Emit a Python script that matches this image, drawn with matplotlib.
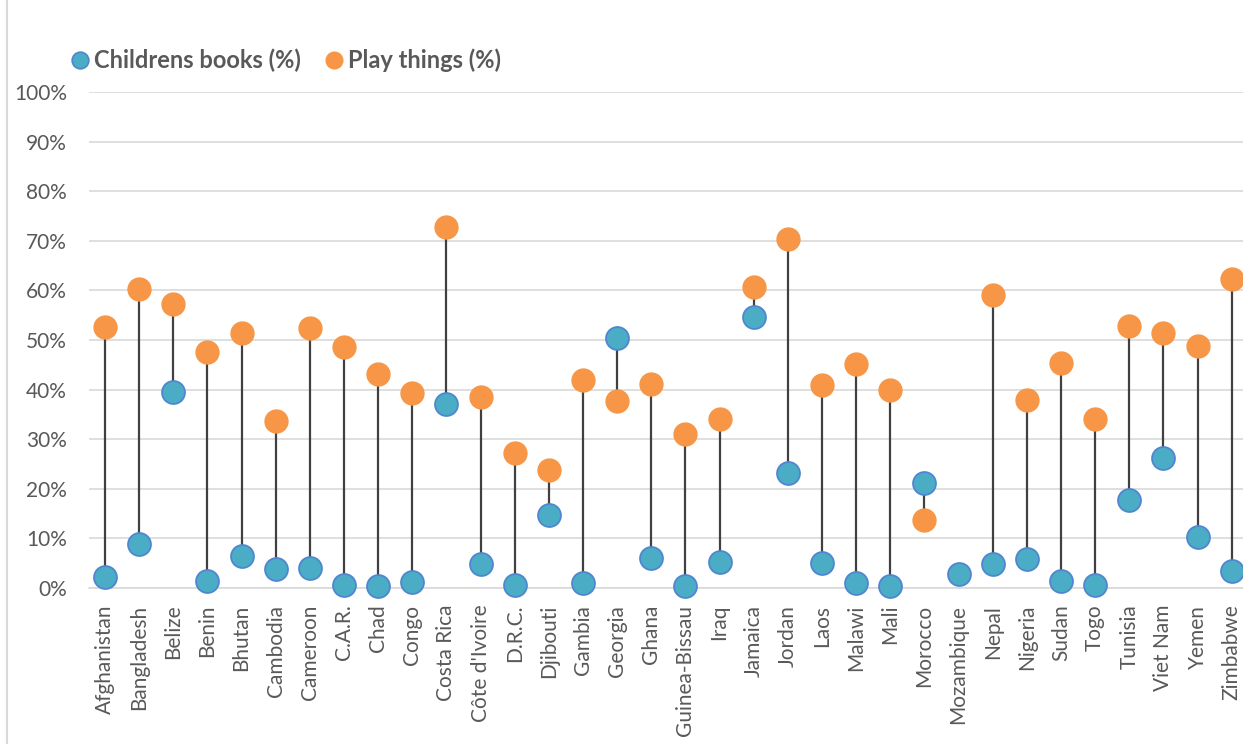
import numpy as np
import matplotlib.pyplot as plt
from matplotlib.lines import Line2D
from matplotlib.ticker import PercentFormatter

plt.rcParams['font.family'] = ['Lato', 'DejaVu Sans']

# data (%)
countries = ["Afghanistan", "Bangladesh", "Belize", "Benin", "Bhutan", "Cambodia",
             "Cameroon", "C.A.R.", "Chad", "Congo", "Costa Rica", "Côte d'Ivoire",
             "D.R.C.", "Djibouti", "Gambia", "Georgia", "Ghana", "Guinea-Bissau",
             "Iraq", "Jamaica", "Jordan", "Laos", "Malawi", "Mali", "Morocco",
             "Mozambique", "Nepal", "Nigeria", "Sudan", "Togo", "Tunisia",
             "Viet Nam", "Yemen", "Zimbabwe"]
books = [2.2, 8.8, 39.6, 1.4, 6.5, 3.9, 4.0, 0.7, 0.5, 1.2, 37.0, 4.8,
         0.6, 14.7, 1.1, 50.5, 6.1, 0.4, 5.3, 54.7, 23.1, 5.0, 1.1, 0.4, 21.1,
         2.8, 4.8, 5.9, 1.5, 0.7, 17.7, 26.2, 10.2, 3.4]
play = [52.6, 60.2, 57.3, 47.5, 51.5, 33.7, 52.4, 48.5, 43.1, 39.3, 72.8, 38.6,
        27.2, 23.7, 42.0, 37.8, 41.1, 31.1, 34.0, 60.7, 70.4, 40.9, 45.2, 40.0, 13.7,
        np.nan, 59.1, 38.0, 45.4, 34.1, 52.9, 51.5, 48.8, 62.2]

blue = '#4BACC6'
blue_edge = '#4F86D0'
orange = '#F79646'
grey = '#595959'

x = np.arange(len(countries))
b = np.array(books)
p = np.array(play)

fig = plt.figure(figsize=(12.43, 7.44), dpi=100)
ax = fig.add_axes([89 / 1243, (744 - 588) / 744, 1 - 89 / 1243, (588 - 92) / 744])

# connecting lines
ok = ~np.isnan(p)
ax.vlines(x[ok], b[ok], p[ok], color='#404040', lw=1.6, zorder=2)

ax.plot(x, b, 'o', ms=16.5, color=blue, mec=blue_edge, mew=1.3, zorder=3, clip_on=False)
ax.plot(x, p, 'o', ms=16.5, color=orange, mec=orange, mew=1.0, zorder=3, clip_on=False)

ax.set_ylim(0, 100)
ax.set_yticks(np.arange(0, 101, 10))
ax.yaxis.set_major_formatter(PercentFormatter(decimals=0))
ax.set_xlim(-0.47, len(countries) - 1 + 0.33)
ax.set_xticks(x)
ax.set_xticklabels(countries, rotation=90)
ax.grid(axis='y', color='#d9d9d9', lw=1.2, zorder=0)
ax.set_axisbelow(True)
for s in ['top', 'right', 'left']:
    ax.spines[s].set_visible(False)
ax.spines['bottom'].set_color('#d9d9d9')
ax.spines['bottom'].set_linewidth(1.2)
ax.tick_params(length=0, labelsize=15, labelcolor=grey)
ax.tick_params(axis='y', pad=16)
ax.tick_params(axis='x', pad=12)

handles = [Line2D([], [], marker='o', ls='', ms=12, color=blue, mec=blue_edge, mew=1.2),
           Line2D([], [], marker='o', ls='', ms=12, color=orange, mec=orange)]
fig.legend(handles, ['Childrens books (%)', 'Play things (%)'], ncol=2,
           loc='center left', bbox_to_anchor=(47 / 1243, 1 - 60 / 744),
           frameon=False, handletextpad=0.1, columnspacing=0.9, handlelength=1.0,
           prop={'size': 17, 'weight': 'bold'}, labelcolor=grey)

# outer chart frame
fig.patches.append(plt.Rectangle((0.006, -0.01), 1.0, 1.02, transform=fig.transFigure,
                                 fill=False, ec='#d9d9d9', lw=1.5))

fig.savefig('out.png', dpi=100)
